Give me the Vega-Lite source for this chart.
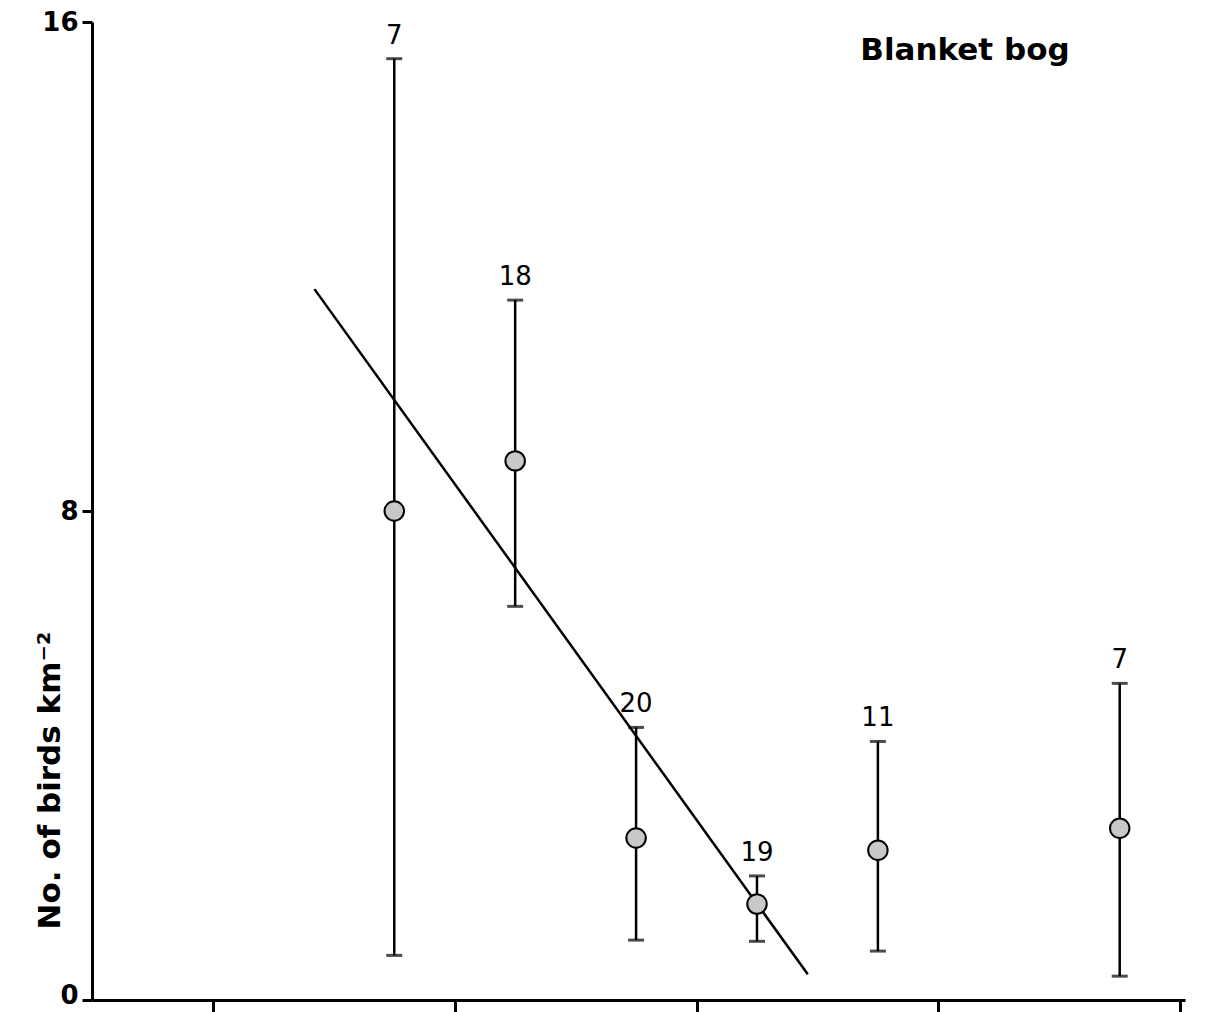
{
  "$schema": "https://vega.github.io/schema/vega-lite/v6.json",
  "width": 1093,
  "height": 978,
  "autosize": {"type": "none"},
  "padding": {"left": 92, "top": 22, "right": 21, "bottom": 12},
  "background": "white",
  "config": {"view": {"stroke": null}, "font": "DejaVu Sans"},
  "datasets": {
    "pts": [
      {"x": 2.5, "mean": 8.0, "upper": 15.4, "lower": 0.73, "n": "7"},
      {"x": 3.5, "mean": 8.82, "upper": 11.45, "lower": 6.44, "n": "18"},
      {"x": 4.5, "mean": 2.65, "upper": 4.46, "lower": 0.98, "n": "20"},
      {"x": 5.5, "mean": 1.57, "upper": 2.03, "lower": 0.96, "n": "19"},
      {"x": 6.5, "mean": 2.45, "upper": 4.23, "lower": 0.80, "n": "11"},
      {"x": 8.5, "mean": 2.81, "upper": 5.18, "lower": 0.39, "n": "7"}
    ],
    "fit": [
      {"x": 1.84, "y": 11.63},
      {"x": 5.92, "y": 0.42}
    ],
    "lbl": [
      {"x": 7.22, "y": 15.52, "t": "Blanket bog"}
    ]
  },
  "layer": [
    {
      "data": {"name": "pts"},
      "mark": {"type": "rule", "color": "black", "strokeWidth": 2.5},
      "encoding": {
        "x": {"field": "x", "type": "quantitative",
          "scale": {"domain": [0, 9.04], "nice": false, "zero": false},
          "axis": {"values": [1, 3, 5, 7, 9], "labels": false, "title": null, "grid": false,
            "domainColor": "black", "domainWidth": 3, "tickColor": "black", "tickWidth": 3, "tickSize": 12}},
        "y": {"field": "lower", "type": "quantitative",
          "scale": {"domain": [0, 16], "nice": false},
          "axis": {"values": [0, 8, 16], "format": "d", "grid": false, "title": "No. of birds km⁻²",
            "domainColor": "black", "domainWidth": 3, "tickColor": "black", "tickWidth": 3, "tickSize": 10,
            "labelFontSize": 26, "labelFontWeight": "bold", "labelColor": "black", "labelPadding": 4,
            "labelOffset": {"condition": {"test": "datum.value === 0", "value": -5}, "value": 0},
            "titleFontSize": 31, "titleFontWeight": "bold", "titleColor": "black",
            "titleX": -42, "titleY": 758, "titleAngle": -90, "titleAlign": "center", "titleBaseline": "middle"}},
        "y2": {"field": "upper"}
      }
    },
    {
      "data": {"name": "pts"},
      "mark": {"type": "tick", "orient": "horizontal", "color": "black", "thickness": 3, "size": 16},
      "encoding": {
        "x": {"field": "x", "type": "quantitative"},
        "y": {"field": "upper", "type": "quantitative"}
      }
    },
    {
      "data": {"name": "pts"},
      "mark": {"type": "tick", "orient": "horizontal", "color": "black", "thickness": 3, "size": 16},
      "encoding": {
        "x": {"field": "x", "type": "quantitative"},
        "y": {"field": "lower", "type": "quantitative"}
      }
    },
    {
      "data": {"name": "fit"},
      "mark": {"type": "line", "color": "black", "strokeWidth": 2.5},
      "encoding": {
        "x": {"field": "x", "type": "quantitative"},
        "y": {"field": "y", "type": "quantitative"}
      }
    },
    {
      "data": {"name": "pts"},
      "mark": {"type": "point", "shape": "circle", "filled": true, "fill": "#c8c8c8", "fillOpacity": 1, "stroke": "black", "strokeWidth": 2, "size": 380},
      "encoding": {
        "x": {"field": "x", "type": "quantitative"},
        "y": {"field": "mean", "type": "quantitative"}
      }
    },
    {
      "data": {"name": "pts"},
      "mark": {"type": "text", "fontSize": 26, "color": "black", "baseline": "bottom", "dy": -10},
      "encoding": {
        "x": {"field": "x", "type": "quantitative"},
        "y": {"field": "upper", "type": "quantitative"},
        "text": {"field": "n"}
      }
    },
    {
      "data": {"name": "lbl"},
      "mark": {"type": "text", "fontSize": 31, "fontWeight": "bold", "color": "black", "baseline": "middle"},
      "encoding": {
        "x": {"field": "x", "type": "quantitative"},
        "y": {"field": "y", "type": "quantitative"},
        "text": {"field": "t"}
      }
    }
  ]
}
